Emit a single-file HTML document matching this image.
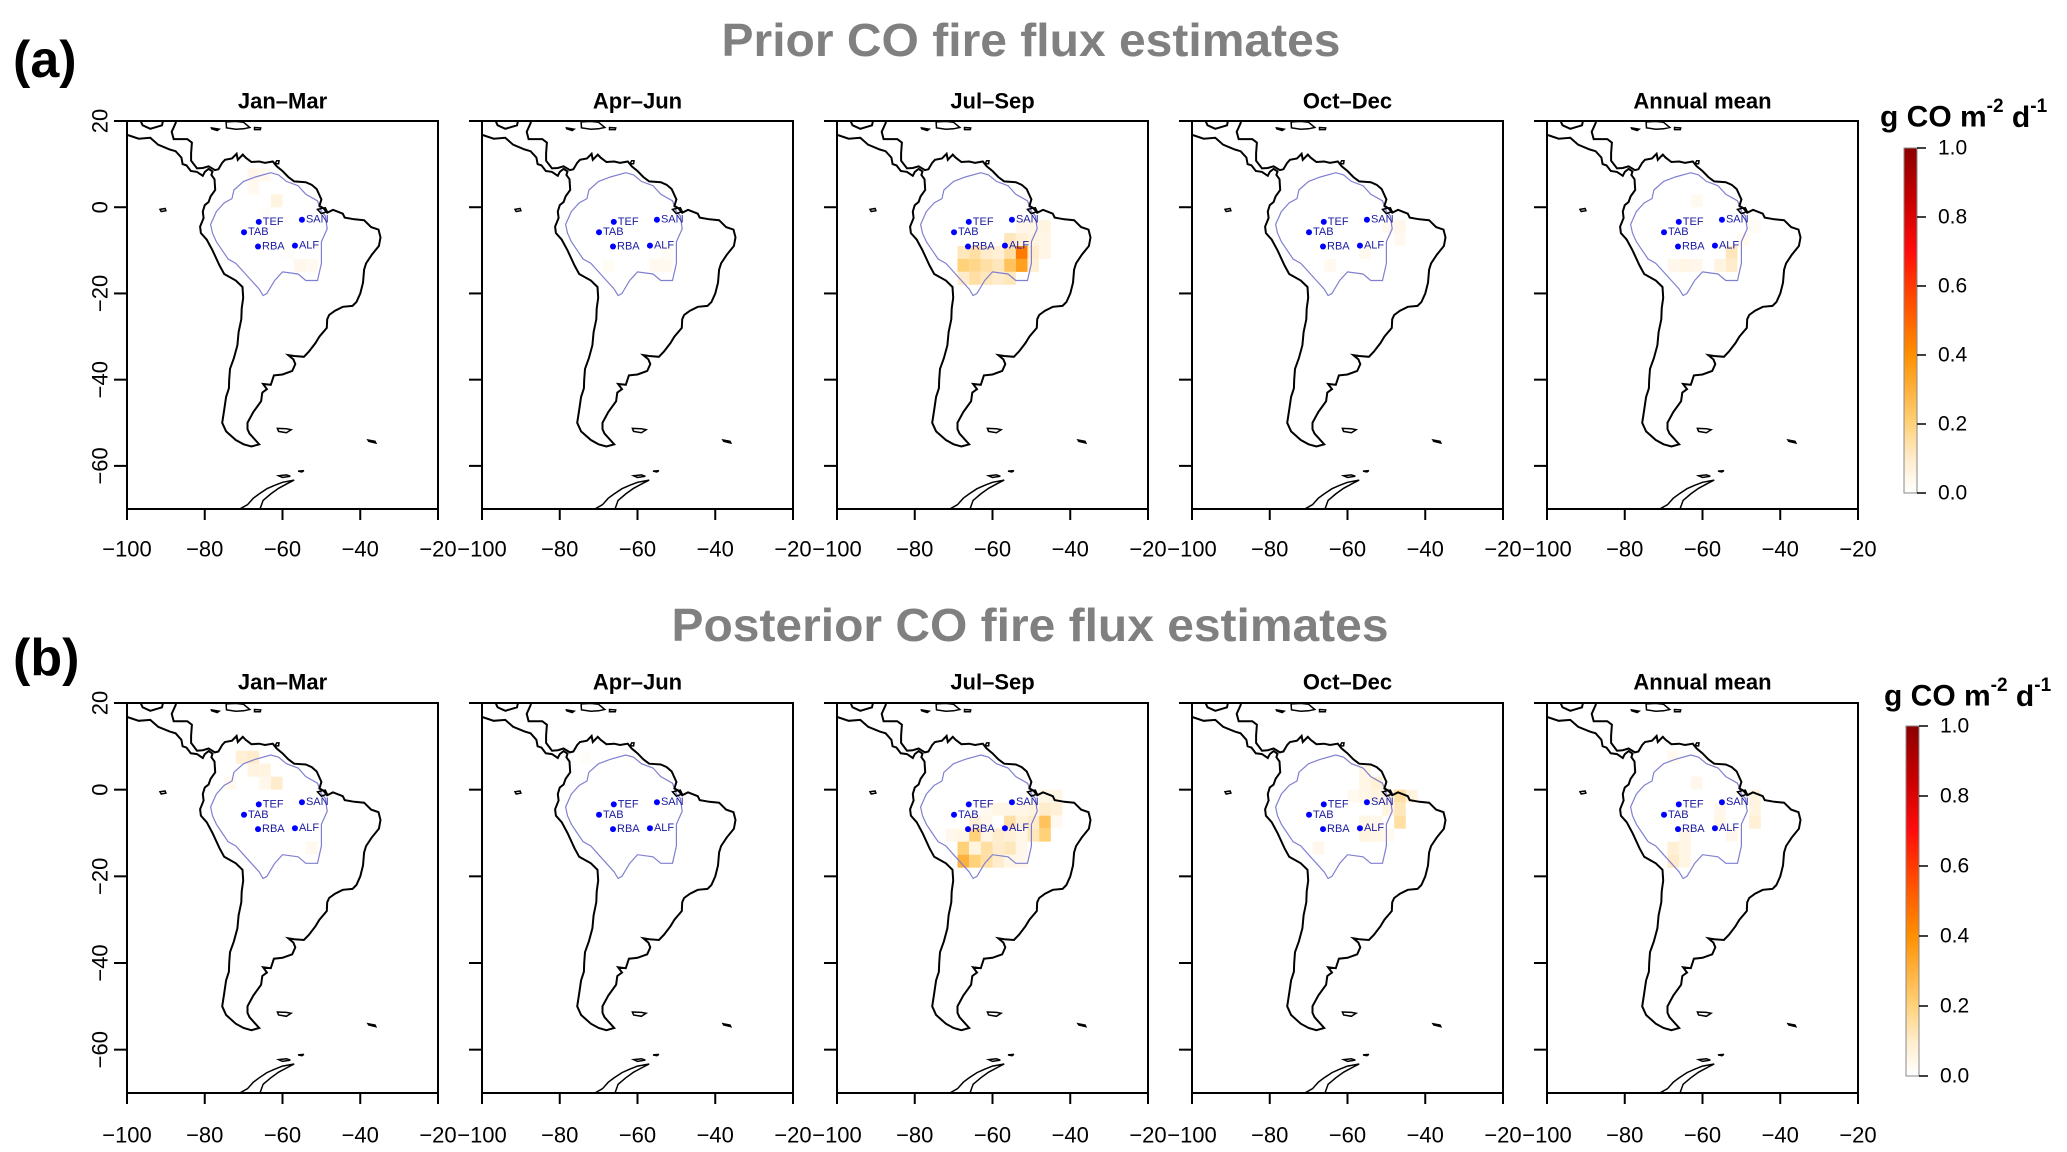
<!DOCTYPE html>
<html><head><meta charset="utf-8"><title>CO fire flux estimates</title>
<style>
html,body{margin:0;padding:0;background:#fff;}
svg{display:block;font-family:"Liberation Sans",Arial,sans-serif;}
</style></head>
<body>
<svg id="fig" width="2067" height="1152" viewBox="0 0 2067 1152" xmlns="http://www.w3.org/2000/svg">
<defs>
<linearGradient id="cbgrad" x1="0" y1="1" x2="0" y2="0">
<stop offset="0" stop-color="#ffffff"/><stop offset="0.1" stop-color="#ffeccc"/><stop offset="0.2" stop-color="#ffd27a"/>
<stop offset="0.4" stop-color="#ff9000"/><stop offset="0.6" stop-color="#ff3a00"/><stop offset="0.7" stop-color="#ff0c0c"/>
<stop offset="0.85" stop-color="#c80000"/><stop offset="1" stop-color="#8b0000"/>
</linearGradient>
</defs>
<text x="1031" y="40" text-anchor="middle" dominant-baseline="central" font-size="46" font-weight="bold" fill="#808080" textLength="619" lengthAdjust="spacingAndGlyphs">Prior CO fire flux estimates</text>
<text x="1030" y="625" text-anchor="middle" dominant-baseline="central" font-size="46" font-weight="bold" fill="#808080" textLength="717" lengthAdjust="spacingAndGlyphs">Posterior CO fire flux estimates</text>
<text x="13" y="60" dominant-baseline="central" font-size="52" font-weight="bold" fill="#000">(a)</text>
<text x="13" y="658" dominant-baseline="central" font-size="52" font-weight="bold" fill="#000">(b)</text>
<g id="panels"></g>
</svg>
<script>
// ---- data ----
const panelTitles = ["Jan\u2013Mar","Apr\u2013Jun","Jul\u2013Sep","Oct\u2013Dec","Annual mean"];
const xTicks = [-100,-80,-60,-40,-20];
const yTicks = [20,0,-20,-40,-60];
const cbTicks = [0,0.2,0.4,0.6,0.8,1.0];
const siteNames = ["TEF","TAB","RBA","ALF","SAN"];
const siteLon = [-66.1,-69.9,-66.3,-56.8,-55.0];
const siteLat = [-3.4,-5.8,-9.1,-8.9,-2.9];
// fire flux cells: [lon centre, lat centre, value g CO m-2 d-1]
const priorJanMar = [[-67.5,7.5,0.04],[-64.5,7.5,0.03],[-67.5,4.5,0.03],[-61.5,1.5,0.06],[-55.5,-13.5,0.04],[-52.5,-13.5,0.03],[-64.5,-1.5,0.01],[-58.5,-10.5,0.01]];
const priorAprJun = [[-55.5,-13.5,0.03],[-52.5,-13.5,0.03],[-67.5,-13.5,0.02],[-52.5,-10.5,0.02]];
const priorJulSep = [[-52.5,-4.5,0.04],[-49.5,-4.5,0.05],[-46.5,-4.5,0.06],
 [-55.5,-7.5,0.12],[-52.5,-7.5,0.08],[-49.5,-7.5,0.06],[-46.5,-7.5,0.05],
 [-67.5,-10.5,0.12],[-64.5,-10.5,0.15],[-61.5,-10.5,0.1],[-58.5,-10.5,0.08],[-55.5,-10.5,0.15],[-52.5,-10.5,0.45],[-49.5,-10.5,0.1],[-46.5,-10.5,0.05],
 [-67.5,-13.5,0.2],[-64.5,-13.5,0.18],[-61.5,-13.5,0.15],[-58.5,-13.5,0.12],[-55.5,-13.5,0.25],[-52.5,-13.5,0.35],[-49.5,-13.5,0.08],
 [-67.5,-16.5,0.1],[-64.5,-16.5,0.15],[-61.5,-16.5,0.12],[-58.5,-16.5,0.1],[-55.5,-16.5,0.12]];
const priorOctDec = [[-46.5,-4.5,0.04],[-49.5,-4.5,0.03],[-64.5,-13.5,0.03],[-55.5,-10.5,0.03],[-46.5,-7.5,0.03]];
const priorAnnual = [[-52.5,-10.5,0.12],[-52.5,-13.5,0.1],[-55.5,-13.5,0.06],[-64.5,-13.5,0.05],[-67.5,-13.5,0.04],[-61.5,-13.5,0.04],[-49.5,-7.5,0.03],[-61.5,1.5,0.03],[-46.5,-4.5,0.02]];
const postJanMar = [[-70.5,7.5,0.08],[-67.5,7.5,0.1],[-67.5,4.5,0.06],[-64.5,4.5,0.06],[-61.5,1.5,0.1],[-64.5,1.5,0.04],[-73.5,1.5,0.03],[-52.5,-13.5,0.03]];
const postAprJun = [[-73.5,7.5,0.01]];
const postJulSep = [[-46.5,-1.5,0.05],[-43.5,-1.5,0.05],
 [-61.5,-4.5,0.03],[-58.5,-4.5,0.05],[-55.5,-4.5,0.05],[-52.5,-4.5,0.05],[-49.5,-4.5,0.06],[-46.5,-4.5,0.1],[-43.5,-4.5,0.08],
 [-64.5,-7.5,0.08],[-61.5,-7.5,0.04],[-55.5,-7.5,0.15],[-52.5,-7.5,0.07],[-49.5,-7.5,0.1],[-46.5,-7.5,0.25],[-43.5,-7.5,0.03],
 [-70.5,-10.5,0.04],[-67.5,-10.5,0.05],[-64.5,-10.5,0.2],[-61.5,-10.5,0.05],[-58.5,-10.5,0.1],[-55.5,-10.5,0.08],[-52.5,-10.5,0.05],[-49.5,-10.5,0.12],[-46.5,-10.5,0.2],
 [-67.5,-13.5,0.2],[-64.5,-13.5,0.06],[-61.5,-13.5,0.15],[-58.5,-13.5,0.1],[-55.5,-13.5,0.12],[-52.5,-13.5,0.04],
 [-67.5,-16.5,0.3],[-64.5,-16.5,0.2],[-61.5,-16.5,0.15],[-58.5,-16.5,0.1],[-55.5,-16.5,0.05],[-52.5,-16.5,0.04]];
const postOctDec = [[-55.5,4.5,0.05],[-55.5,1.5,0.05],[-52.5,1.5,0.08],
 [-58.5,-1.5,0.03],[-55.5,-1.5,0.05],[-52.5,-1.5,0.06],[-49.5,-1.5,0.05],[-46.5,-1.5,0.15],[-43.5,-1.5,0.06],
 [-49.5,-4.5,0.06],[-46.5,-4.5,0.12],[-55.5,-7.5,0.05],[-52.5,-7.5,0.04],[-46.5,-7.5,0.15],
 [-55.5,-10.5,0.06],[-52.5,-10.5,0.05],[-49.5,-10.5,0.03],[-67.5,-13.5,0.04]];
const postAnnual = [[-46.5,-1.5,0.06],[-46.5,-4.5,0.06],[-55.5,-4.5,0.04],[-46.5,-7.5,0.08],[-55.5,-7.5,0.05],
 [-64.5,-10.5,0.05],[-52.5,-10.5,0.04],[-67.5,-13.5,0.08],[-64.5,-13.5,0.05],[-67.5,-16.5,0.1],[-64.5,-16.5,0.05],[-61.5,1.5,0.04],[-67.5,7.5,0.03]];
const rowData = [[priorJanMar,priorAprJun,priorJulSep,priorOctDec,priorAnnual],[postJanMar,postAprJun,postJulSep,postOctDec,postAnnual]];

// ---- geography (lon,lat) ----
const coastMain = [[-101,16.8],[-100,16.8],[-97,15.9],[-94,16.1],[-92,14.5],[-89,13.4],[-87.5,13],[-86,11.5],[-85.7,10],[-84.7,9.7],[-83.6,8.4],[-82,8.2],[-80.5,7.3],[-80,8.2],[-79,8.9],[-78,8.3],[-78.3,7.5],[-77.5,6.5],[-77.3,4],[-78.5,2.5],[-79,1.2],[-80,0.5],[-80.5,-1],[-80.3,-2.5],[-81.2,-4.5],[-81,-6],[-79.5,-7.5],[-78,-10],[-76.2,-13.5],[-75,-15.5],[-72,-17],[-70.3,-18.5],[-70.1,-21],[-70.5,-23.5],[-70.6,-26],[-71.3,-29],[-71.6,-32],[-72.5,-35],[-73.5,-37.5],[-73.7,-40],[-73.8,-42],[-74.5,-44],[-75,-47],[-75.5,-50],[-74.5,-52],[-72,-54],[-70,-55],[-68,-55.5],[-66,-55],[-68.5,-52.5],[-69,-51.5],[-69,-50],[-67.5,-47.5],[-65.5,-45],[-65.2,-43],[-64,-42.2],[-65,-41],[-63,-41.2],[-62.2,-39],[-60,-38.8],[-57.5,-38],[-56.7,-36.4],[-57.2,-35.3],[-58.5,-34.3],[-57,-34.5],[-54.5,-34.7],[-53.2,-33.5],[-51.5,-31.5],[-50.5,-30],[-48.6,-28],[-48.5,-26],[-48,-25],[-46.5,-24],[-44.5,-23.1],[-42,-22.9],[-41,-22],[-40,-20],[-39.3,-17.5],[-39,-14.5],[-38.5,-13],[-37,-11],[-35.2,-9],[-34.8,-7],[-35.3,-5.2],[-37.2,-4.6],[-39,-3],[-41.5,-2.8],[-44,-2.4],[-44.5,-1.5],[-47,-0.6],[-48.5,-1.3],[-49.5,-0.2],[-50.5,0.3],[-50,1.8],[-51.2,4.2],[-52.5,5.2],[-54,5.8],[-57,6],[-58.5,7],[-60,8.4],[-61.5,9.5],[-62.5,10.6],[-64.5,10.3],[-66,10.6],[-68,10.5],[-69.5,11.5],[-70.2,12.2],[-71.5,11],[-71.8,12.4],[-73,11.3],[-74.8,11],[-75.5,10.3],[-76.5,8.8],[-77.4,8.6],[-79,9.5],[-80.5,9.1],[-82,9],[-83.5,10.8],[-83.5,12.5],[-83.3,15],[-84.5,15.8],[-88,15.8],[-88.5,17.5],[-87.5,19.5],[-87,21.5],[-87,22],[-90,22],[-90.5,21],[-91,19],[-94,18.2],[-96,19],[-97,21],[-97.5,22],[-101,22]];
const islands = [
 [[-85,21.8],[-82,23],[-80,23],[-77,21.5],[-74.2,20.2],[-77,19.9],[-78,20.6],[-81,21.7],[-84,21.9]],
 [[-74.5,19.8],[-72,19.9],[-70,19.7],[-68.4,18.5],[-70,18.2],[-72,18.1],[-74.4,18.4]],
 [[-78.3,18.4],[-76.3,18.1],[-76.8,17.8],[-78.2,18.2]],
 [[-67.2,18.5],[-65.6,18.4],[-65.7,18],[-67.2,18]],
 [[-61.5,10.8],[-60.9,10.8],[-61,10.1],[-61.9,10.1]],
 [[-61.3,-51.3],[-59,-51.4],[-57.8,-51.6],[-59,-52.3],[-61,-52]],
 [[-91.5,-0.5],[-90.2,-0.3],[-90,-0.8],[-91.2,-1]],
 [[-51,-0.5],[-49,-0.1],[-48.5,-1],[-50,-1.5]],
 [[-38,-54],[-36.2,-54.3],[-36,-54.7],[-37.8,-54.3]],
 [[-61,-62.3],[-59,-62.1],[-58,-62.4],[-60,-62.7]],
 [[-56,-61.2],[-54.5,-61.1],[-55,-61.4]]
];
const antarcticCoast = [[-75,-72],[-72,-70.5],[-69,-69],[-67.5,-67.5],[-66,-66.5],[-64,-65.3],[-62,-64.5],[-60,-63.8],[-57,-63.3],[-58.5,-64],[-61,-65.2],[-63,-66.5],[-65,-68],[-66,-70.5],[-66,-72]];
const basin = [[-77,-1],[-75,1],[-73,2],[-72.5,4],[-70,6],[-67,7],[-63,8],[-61,7.5],[-59,6],[-56,5],[-54,3],[-51,1.5],[-50,-1],[-49,-2],[-48.5,-5],[-50,-8],[-50,-13],[-51,-17],[-54,-17],[-56,-15.5],[-60,-15],[-62,-17],[-64,-20],[-65,-20.5],[-66,-19],[-68,-17],[-70,-15],[-72,-13],[-74,-12],[-75.5,-10],[-77,-8],[-78,-6],[-78.5,-4],[-77,-1]];

// ---- layout ----
const NS = "http://www.w3.org/2000/svg";
const rows = [{top:121,bottom:509,titleY:101,labY:549,cb:[1904,148,493],unitY:117,unitX:1880},
              {top:703,bottom:1093,titleY:682,labY:1135,cb:[1906,726,1076],unitY:696,unitX:1884}];
const panelLeft0 = 127, panelPitch = 355, panelW = 311;
const CELL = 3;
function el(tag, attrs, parent){const e=document.createElementNS(NS,tag);for(const k in attrs)e.setAttribute(k,attrs[k]);parent.appendChild(e);return e;}
function lerp(a,b,t){return a+(b-a)*t;}
const cstops=[[0,[255,255,255]],[0.1,[255,236,204]],[0.2,[255,210,122]],[0.4,[255,144,0]],[0.6,[255,58,0]],[0.7,[255,12,12]],[0.85,[200,0,0]],[1,[139,0,0]]];
function colorOf(v){v=Math.max(0,Math.min(1,v));for(let i=1;i<cstops.length;i++){if(v<=cstops[i][0]){const a=cstops[i-1],b=cstops[i];const t=(v-a[0])/(b[0]-a[0]);return "rgb("+[0,1,2].map(k=>Math.round(lerp(a[1][k],b[1][k],t))).join(",")+")";}}return "rgb(139,0,0)";}

const root = document.getElementById("panels");
rows.forEach((R, ri) => {
  for (let pi = 0; pi < 5; pi++) {
    const left = panelLeft0 + pi*panelPitch, right = left + panelW;
    const X = lon => left + (lon + 100) * panelW / 80;
    const Y = lat => R.top + (20 - lat) * (R.bottom - R.top) / 90;
    const g = el("g", {}, root);
    
    
    const cid = "clip" + ri + pi;
    const cp = el("clipPath", {id: cid}, g);
    el("rect", {x:left, y:R.top, width:panelW, height:R.bottom-R.top}, cp);
    const t = el("text", {x:(left+right)/2, y:R.titleY, "text-anchor":"middle", "dominant-baseline":"central", "font-size":"22", "font-weight":"bold"}, g);
    
    
    t.textContent = panelTitles[pi];
    const inner = el("g", {"clip-path":"url(#"+cid+")"}, g);
    rowData[ri][pi].forEach(c => {
      const r = el("rect", {x:X(c[0]-CELL/2), y:Y(c[1]+CELL/2), width:X(c[0]+CELL/2)-X(c[0]-CELL/2), height:Y(c[1]-CELL/2)-Y(c[1]+CELL/2), fill:colorOf(c[2])}, inner);
      
      
    });
    const toPath = (pts, close) => pts.map((p,i)=>(i?"L":"M")+X(p[0]).toFixed(1)+" "+Y(p[1]).toFixed(1)).join("") + (close?"Z":"");
    const bp = el("path", {d:toPath(basin,true), fill:"none", stroke:"#8080d0", "stroke-width":"1.2"}, inner);
    
    
    const cpth = el("path", {d:toPath(coastMain,true), fill:"none", stroke:"#000", "stroke-width":"2"}, inner);
    
    
    islands.forEach(isl => {
      const ip = el("path", {d:toPath(isl,true), fill:"none", stroke:"#000", "stroke-width":"1.5"}, inner);
      
      
    });
    const ap = el("path", {d:toPath(antarcticCoast,false), fill:"none", stroke:"#000", "stroke-width":"1.5"}, inner);
    
    
    siteNames.forEach((s, si) => {
      const d = el("circle", {cx:X(siteLon[si]), cy:Y(siteLat[si]), r:3, fill:"#0000ff"}, g);
      
      
      const tl = el("text", {x:X(siteLon[si])+4, y:Y(siteLat[si]), "dominant-baseline":"central", "font-size":"11", fill:"#1a1aa0"}, g);
      
      
      tl.textContent = s;
    });
    const bx = el("rect", {x:left, y:R.top, width:panelW, height:R.bottom-R.top, fill:"none", stroke:"#000", "stroke-width":"2"}, g);
    
    
    xTicks.forEach(v => {
      el("line", {x1:X(v), x2:X(v), y1:R.bottom, y2:R.bottom+11, stroke:"#000", "stroke-width":"2"}, g);
      const lt = el("text", {x:X(v), y:R.labY, "text-anchor":"middle", "dominant-baseline":"central", "font-size":"22"}, g);
      
      
      lt.textContent = (v<0?"\u2212":"") + Math.abs(v);
    });
    yTicks.forEach(v => {
      el("line", {x1:left-13, x2:left, y1:Y(v), y2:Y(v), stroke:"#000", "stroke-width":"2"}, g);
      if (pi === 0) {
        const yt = el("text", {x:0, y:0, "text-anchor":"middle", "dominant-baseline":"central", "font-size":"22", transform:"translate(100,"+Y(v)+") rotate(-90)"}, g);
        
        
        yt.textContent = (v<0?"\u2212":"") + Math.abs(v);
      }
    });
  }
  const [cx, ct, cb] = R.cb;
  const cg = el("g", {}, root);
  
  
  el("rect", {x:cx, y:ct, width:13, height:cb-ct, fill:"url(#cbgrad)", stroke:"#888", "stroke-width":"1"}, cg);
  cbTicks.forEach(v => {
    const yy = cb - v*(cb-ct);
    el("line", {x1:cx+13, x2:cx+22, y1:yy, y2:yy, stroke:"#000", "stroke-width":"1.5"}, cg);
    const ct2 = el("text", {x:cx+34, y:yy, "dominant-baseline":"central", "font-size":"21"}, cg);
    
    
    ct2.textContent = v.toFixed(1);
  });
  const ut = el("text", {x:R.unitX, y:R.unitY, "dominant-baseline":"central", "font-size":"30", "font-weight":"bold"}, root);
  
  
  ut.innerHTML = 'g CO m<tspan font-size="19" dy="-11">-2</tspan><tspan dy="11"> d</tspan><tspan font-size="19" dy="-11">-1</tspan>';
});
</script>
</body></html>
